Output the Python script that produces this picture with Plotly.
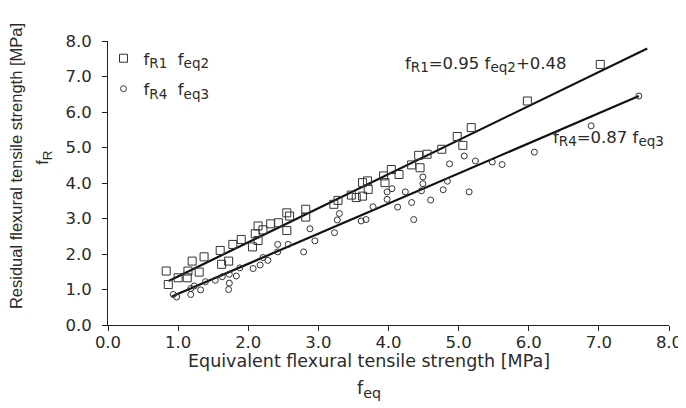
import plotly.graph_objects as go

# --- data ---
r1_x = [0.83, 0.86, 1.00, 1.14, 1.13, 1.20, 1.30, 1.37, 1.60, 1.62, 1.72, 1.78, 1.90,
        2.06, 2.10, 2.14, 2.14, 2.21, 2.32, 2.43, 2.55, 2.55, 2.59, 2.82, 2.82,
        3.22, 3.28, 3.47, 3.54, 3.63, 3.63, 3.70, 3.71, 3.93, 3.95, 4.15, 4.04,
        4.33, 4.43, 4.45, 4.55, 4.76, 4.98, 5.06, 5.18, 5.98, 7.02]
r1_y = [1.52, 1.14, 1.33, 1.52, 1.33, 1.80, 1.49, 1.92, 2.10, 1.71, 1.80, 2.27, 2.41,
        2.20, 2.57, 2.79, 2.38, 2.68, 2.85, 2.88, 3.16, 2.66, 3.07, 3.26, 3.04,
        3.40, 3.51, 3.66, 3.59, 3.63, 4.01, 4.06, 3.82, 4.20, 4.01, 4.24, 4.38,
        4.51, 4.78, 4.43, 4.81, 4.95, 5.31, 5.06, 5.56, 6.31, 7.34]

r4_x = [0.93, 0.98, 1.18, 1.18, 1.23, 1.32, 1.39, 1.53, 1.63, 1.73, 1.73, 1.72, 1.83,
        1.88, 2.07, 2.17, 2.21, 2.28, 2.42, 2.42, 2.57, 2.79, 2.88, 2.95, 3.23,
        3.27, 3.30, 3.61, 3.68, 3.78, 3.98, 3.98, 4.05, 4.13, 4.24, 4.33, 4.36,
        4.47, 4.49, 4.49, 4.60, 4.78, 4.84, 4.87, 5.08, 5.15, 5.24, 5.48, 5.62,
        6.08, 6.89, 7.57]
r4_y = [0.86, 0.79, 0.86, 1.03, 1.10, 0.99, 1.22, 1.26, 1.36, 1.43, 1.18, 1.00, 1.38,
        1.61, 1.59, 1.69, 1.90, 1.82, 2.27, 2.06, 2.27, 2.06, 2.71, 2.37, 2.60,
        2.96, 3.14, 2.93, 2.97, 3.33, 3.75, 3.54, 3.84, 3.32, 3.75, 3.45, 2.97,
        3.78, 3.98, 4.17, 3.52, 3.81, 4.05, 4.54, 4.76, 3.75, 4.62, 4.59, 4.52,
        4.87, 5.61, 6.45]

fit1_x = [0.865, 7.69]
fit1_y = [1.24, 7.79]
fit4_x = [0.91, 7.57]
fit4_y = [0.80, 6.45]

tick_vals = [0, 1, 2, 3, 4, 5, 6, 7, 8]
tick_text = ["0.0", "1.0", "2.0", "3.0", "4.0", "5.0", "6.0", "7.0", "8.0"]

WIDE = "DejaVu Sans, Verdana, sans-serif"
NARROW = "Liberation Sans, Arial, Helvetica, sans-serif"
TXT = "#2a2a2a"
MK = "#333333"
FS = 16.5


def sub(t, fs=FS):
    return '<sub><span style="font-size:%.1fpx">%s</span></sub>' % (fs * 0.82, t)


fig = go.Figure()
fig.add_trace(go.Scatter(x=fit1_x, y=fit1_y, mode="lines",
                         line=dict(color="#111111", width=2.2), showlegend=False,
                         hoverinfo="skip"))
fig.add_trace(go.Scatter(x=fit4_x, y=fit4_y, mode="lines",
                         line=dict(color="#111111", width=2.2), showlegend=False,
                         hoverinfo="skip"))
fig.add_trace(go.Scatter(x=r1_x, y=r1_y, mode="markers", legendgroup="a",
                         name="f" + sub("R1") + "  f" + sub("eq2"),
                         marker=dict(symbol="square-open", size=8,
                                     color=MK, line=dict(width=1, color=MK))))
fig.add_trace(go.Scatter(x=r4_x, y=r4_y, mode="markers", legendgroup="b",
                         name="f" + sub("R4") + "  f" + sub("eq3"),
                         marker=dict(symbol="circle-open", size=6,
                                     color=MK, line=dict(width=1, color=MK))))

axis_common = dict(range=[0, 8], tickvals=tick_vals, ticktext=tick_text,
                   showgrid=False, zeroline=False, showline=True,
                   linecolor="#222222", linewidth=1, ticks="outside",
                   ticklen=5, tickcolor="#222222", tickwidth=1,
                   tickfont=dict(family=WIDE, size=FS, color=TXT))

fig.update_layout(
    width=686, height=408,
    margin=dict(l=100, r=14, t=33, b=91),
    paper_bgcolor="white", plot_bgcolor="white",
    font=dict(family=WIDE, size=FS, color=TXT),
    xaxis=dict(axis_common, ticklabelstandoff=-3),
    yaxis=dict(axis_common, ticklabelstandoff=7, ticksuffix=" "),
    legend=dict(x=-0.008, y=1.0, xanchor="left", yanchor="top",
                bgcolor="rgba(0,0,0,0)", font=dict(family=WIDE, size=FS, color=TXT),
                itemsizing="trace", traceorder="grouped", tracegroupgap=6),
    annotations=[
        dict(text="Equivalent flexural tensile strength [MPa]", xref="paper", yref="paper",
             x=0.465, y=-0.125, xanchor="center", yanchor="middle", showarrow=False,
             font=dict(family=WIDE, size=17.5, color=TXT)),
        dict(text="f" + sub("eq", 17.5), xref="paper", yref="paper",
             x=0.465, y=-0.226, xanchor="center", yanchor="middle", showarrow=False,
             font=dict(family=WIDE, size=17.5, color=TXT)),
        dict(text="Residual flexural tensile strength [MPa]", xref="paper", yref="paper",
             x=-0.165, y=0.561, xanchor="center", yanchor="middle", showarrow=False,
             textangle=-90, font=dict(family=NARROW, size=FS, color=TXT)),
        dict(text="f" + sub("R"), xref="paper", yref="paper",
             x=-0.114, y=0.589, xanchor="center", yanchor="middle", showarrow=False,
             textangle=-90, font=dict(family=NARROW, size=FS, color=TXT)),
        dict(text="f" + sub("R1") + "=0.95 f" + sub("eq2") + "+0.48", x=5.38, y=7.33,
             xanchor="center", yanchor="middle", showarrow=False,
             font=dict(family=WIDE, size=FS, color=TXT)),
        dict(text="f" + sub("R4") + "=0.87 f" + sub("eq3"), x=7.14, y=5.24,
             xanchor="center", yanchor="middle", showarrow=False,
             font=dict(family=WIDE, size=FS, color=TXT)),
    ],
)

fig.write_html("out.html")
